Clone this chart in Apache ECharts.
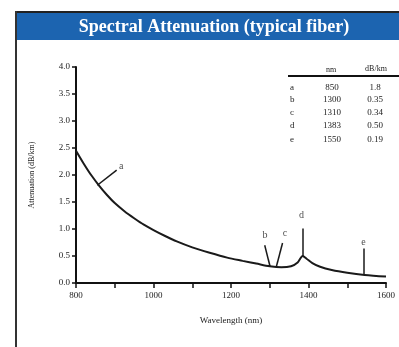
<!DOCTYPE html>
<html>
<head>
<meta charset="utf-8">
<script src="https://cdn.jsdelivr.net/npm/echarts@6/dist/echarts.min.js"></script>
<style>
    html, body { margin: 0; padding: 0; background: #fff; }
    #chart { width: 399px; height: 347px; }
</style>
</head>
<body>
<div id="chart"></div>
<script>
// curve
var wavelength = [800, 820, 840, 860, 880, 900, 925, 950, 975, 1000, 1030, 1060, 1100, 1145, 1190, 1230, 1265, 1300, 1330, 1355, 1372, 1385, 1395, 1410, 1430, 1460, 1500, 1545, 1600];
var attenuation = [2.45, 2.21, 1.99, 1.80, 1.63, 1.48, 1.33, 1.20, 1.08, 0.98, 0.87, 0.77, 0.66, 0.56, 0.47, 0.41, 0.36, 0.31, 0.29, 0.31, 0.38, 0.50, 0.45, 0.37, 0.30, 0.24, 0.19, 0.15, 0.12];

// pointer labels and their lines (data units)
var markNames = ['a', 'b', 'c', 'd', 'e'];
var markLabelPos = [[917, 2.16], [1288, 0.89], [1339, 0.92], [1382, 1.26], [1542, 0.76]];
var markLineFrom = [[905, 2.09], [1287, 0.70], [1333, 0.74], [1384, 1.01], [1542, 0.64]];
var markLineTo = [[855, 1.81], [1301, 0.30], [1317, 0.30], [1384, 0.50], [1542, 0.16]];

// table
var tableLetters = ['a', 'b', 'c', 'd', 'e'];
var tableNm = ['850', '1300', '1310', '1383', '1550'];
var tableDb = ['1.8', '0.35', '0.34', '0.50', '0.19'];
var tableRowY = [88, 100, 113, 126, 140];

var serif = '"Liberation Serif", "DejaVu Serif", serif';

var chartDom = document.getElementById('chart');
var myChart = echarts.init(chartDom);

var graphics = [
    { type: 'rect', shape: { x: 16, y: 13, width: 383, height: 27 }, style: { fill: '#1c64b0' } },
    { type: 'rect', shape: { x: 15, y: 11, width: 384, height: 2 }, style: { fill: '#222' } },
    { type: 'rect', shape: { x: 15, y: 11, width: 2, height: 336 }, style: { fill: '#333' } },
    {
        type: 'text', x: 214, y: 27,
        style: {
            text: 'Spectral Attenuation (typical fiber)',
            fill: '#fff', font: 'bold 18px ' + serif,
            textAlign: 'center', textVerticalAlign: 'middle'
        }
    },
    { type: 'rect', shape: { x: 288, y: 75, width: 111, height: 2 }, style: { fill: '#111' } },
    { type: 'text', x: 331, y: 70, style: { text: 'nm', fill: '#222', font: '8px ' + serif, textAlign: 'center', textVerticalAlign: 'middle' } },
    { type: 'text', x: 376, y: 69, style: { text: 'dB/km', fill: '#222', font: '8px ' + serif, textAlign: 'center', textVerticalAlign: 'middle' } }
];

tableLetters.forEach(function(l, i) {
    var y = tableRowY[i];
    graphics.push({ type: 'text', x: 290, y: y, style: { text: l, fill: '#222', font: '9px ' + serif, textAlign: 'left', textVerticalAlign: 'middle' } });
    graphics.push({ type: 'text', x: 332, y: y, style: { text: tableNm[i], fill: '#222', font: '9px ' + serif, textAlign: 'center', textVerticalAlign: 'middle' } });
    graphics.push({ type: 'text', x: 375, y: y, style: { text: tableDb[i], fill: '#222', font: '9px ' + serif, textAlign: 'center', textVerticalAlign: 'middle' } });
});

var option = {
    animation: false,
    textStyle: { fontFamily: serif },
    grid: { left: 76, right: 13, top: 67, bottom: 64 },
    xAxis: {
        type: 'value',
        min: 800,
        max: 1600,
        interval: 100,
        name: 'Wavelength (nm)',
        nameLocation: 'middle',
        nameGap: 33,
        nameTextStyle: { fontSize: 9, color: '#222', fontFamily: serif },
        axisLine: { lineStyle: { color: '#111', width: 2 } },
        axisTick: { inside: false, length: 5, lineStyle: { color: '#111', width: 1.5 } },
        axisLabel: {
            fontSize: 9, color: '#222', margin: 8, fontFamily: serif,
            formatter: function(v) { return v % 200 === 0 ? String(v) : ''; }
        },
        splitLine: { show: false }
    },
    yAxis: {
        type: 'value',
        min: 0,
        max: 4,
        interval: 0.5,
        name: 'Attenuation (dB/km)',
        nameLocation: 'middle',
        nameGap: 40,
        nameTextStyle: { fontSize: 8, color: '#222', fontFamily: serif },
        axisLine: { show: true, lineStyle: { color: '#111', width: 2 } },
        axisTick: { show: true, inside: false, length: 4, lineStyle: { color: '#111', width: 1.5 } },
        axisLabel: {
            fontSize: 9, color: '#222', margin: 6, fontFamily: serif,
            formatter: function(v) { return v.toFixed(1); }
        },
        splitLine: { show: false }
    },
    series: [
        {
            type: 'line',
            smooth: 0.3,
            symbol: 'none',
            lineStyle: { color: '#1a1a1a', width: 2 },
            data: wavelength.map(function(w, i) { return [w, attenuation[i]]; }),
            markLine: {
                silent: true,
                symbol: ['none', 'none'],
                label: { show: false },
                lineStyle: { color: '#1a1a1a', width: 1.5, type: 'solid' },
                data: markNames.map(function(n, i) {
                    return [{ coord: markLineFrom[i] }, { coord: markLineTo[i] }];
                })
            }
        },
        {
            type: 'scatter',
            symbolSize: 0,
            silent: true,
            label: {
                show: true,
                position: 'inside',
                fontSize: 10,
                color: '#222',
                fontFamily: serif,
                formatter: function(p) { return p.data[2]; }
            },
            data: markNames.map(function(n, i) { return [markLabelPos[i][0], markLabelPos[i][1], n]; })
        }
    ],
    graphic: graphics
};

myChart.setOption(option);
</script>
</body>
</html>
